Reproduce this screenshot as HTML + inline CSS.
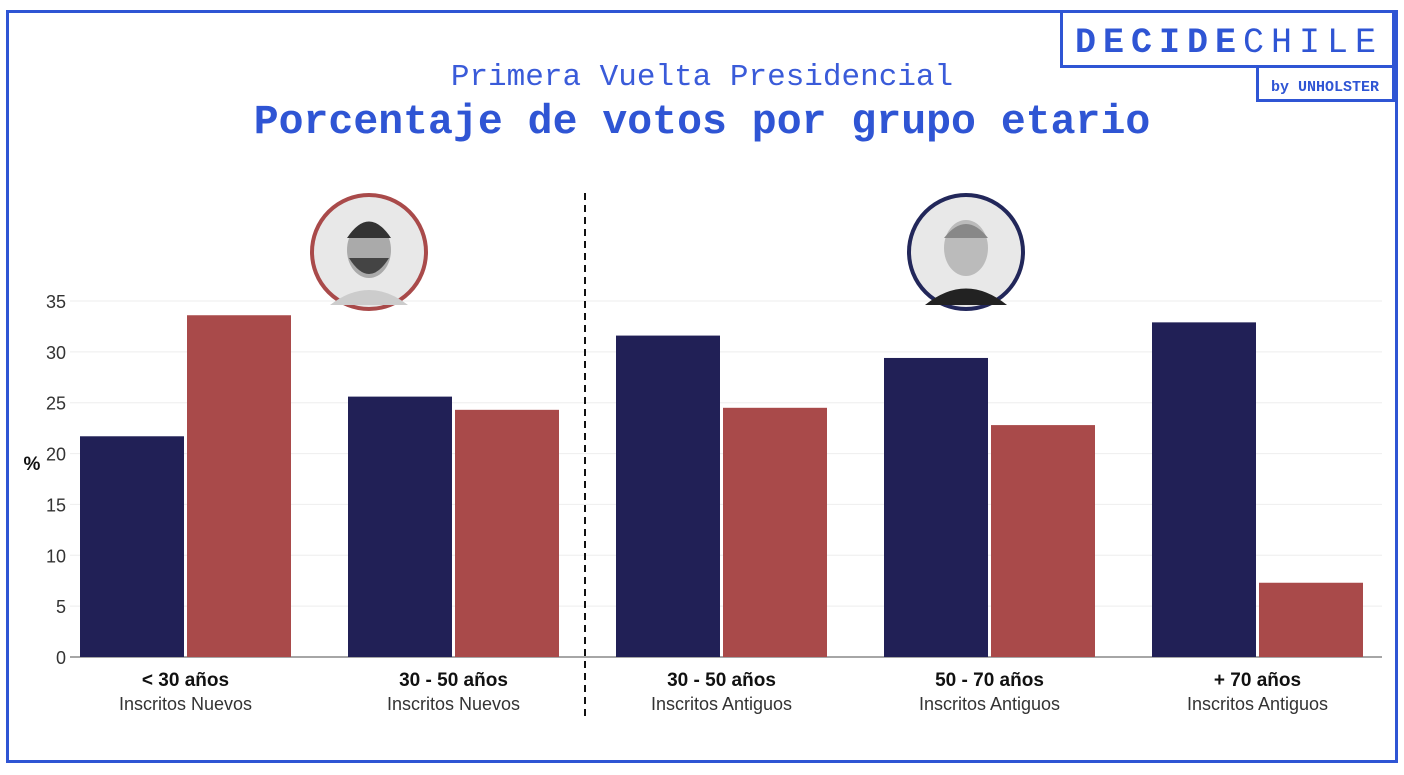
<!DOCTYPE html>
<html><head><meta charset="utf-8"><style>
body{margin:0;width:1404px;height:770px;background:#fff;overflow:hidden;font-family:"Liberation Sans",sans-serif}
</style></head><body>
<svg width="1404" height="770">
<rect x="7.5" y="11.5" width="1389" height="750" fill="none" stroke="#2f55d4" stroke-width="3"/>
<g>
<rect x="1061.5" y="11.5" width="332" height="55" fill="#fff" stroke="#2f55d4" stroke-width="3"/>
<rect x="1257.5" y="66.5" width="136" height="34" fill="#fff" stroke="#2f55d4" stroke-width="3"/>
<text x="1075" y="52" font-family="Liberation Mono,monospace" font-size="35" fill="#2f55d4" letter-spacing="7"><tspan font-weight="bold">DECIDE</tspan>CHILE</text>
<text x="1271" y="91" font-family="Liberation Mono,monospace" font-size="15" font-weight="bold" fill="#2f55d4">by UNHOLSTER</text>
</g>
<text x="702" y="85" text-anchor="middle" font-family="Liberation Mono,monospace" font-size="31" fill="#3a5bd9">Primera Vuelta Presidencial</text>
<text x="702" y="133" text-anchor="middle" font-family="Liberation Mono,monospace" font-weight="bold" font-size="41.5" fill="#2f55d4">Porcentaje de votos por grupo etario</text>
<g id="grid"></g><g id="bars"></g><g id="labels"></g>
<line x1="585" y1="193" x2="585" y2="716" stroke="#111" stroke-width="2" stroke-dasharray="7,5"/>
<text x="32" y="470" text-anchor="middle" font-size="19" font-weight="bold" fill="#111">%</text>
<g>
<circle cx="369" cy="252" r="57" fill="#e8e8e8" stroke="#a94a4a" stroke-width="4"/>
<ellipse cx="369" cy="250" rx="22" ry="28" fill="#aaa"/><path d="M347 238 Q369 205 391 238 Z" fill="#333"/><path d="M349 258 Q369 290 389 258 Z" fill="#444"/><path d="M330 305 Q369 275 408 305 Z" fill="#ccc"/>
</g>
<g>
<circle cx="966" cy="252" r="57" fill="#e8e8e8" stroke="#22275a" stroke-width="4"/>
<ellipse cx="966" cy="248" rx="22" ry="28" fill="#bbb"/><path d="M944 238 Q966 210 988 238 Z" fill="#888"/><path d="M925 305 Q966 272 1007 305 Z" fill="#222"/>
</g>
</svg>
<script>
const categories=["< 30 años","30 - 50 años","30 - 50 años","50 - 70 años","+ 70 años"];
const subLabels=["Inscritos Nuevos","Inscritos Nuevos","Inscritos Antiguos","Inscritos Antiguos","Inscritos Antiguos"];
const kastValues=[21.7,25.6,31.6,29.4,32.9];
const boricValues=[33.6,24.3,24.5,22.8,7.3];
const yTicks=[0,5,10,15,20,25,30,35];
const NS="http://www.w3.org/2000/svg";
const y0=657,yTop=301,vMax=35;
const y=v=>y0-(y0-yTop)*v/vMax;
const xc=i=>185.5+268*i;
function mk(tag,attrs,parent){const e=document.createElementNS(NS,tag);for(const k in attrs)e.setAttribute(k,attrs[k]);document.getElementById(parent).appendChild(e);return e;}
yTicks.forEach(t=>{
 const l=mk('line',{x1:70,x2:1382,y1:y(t),y2:y(t),stroke:t===0?'#888':'#eee','stroke-width':t===0?1.5:1},'grid');
 
 
 const tx=mk('text',{x:66,y:y(t)+7,'text-anchor':'end','font-size':18,fill:'#333'},'grid');tx.textContent=t;
 
 
});
categories.forEach((c,i)=>{
 const a=mk('rect',{x:xc(i)-105.5,y:y(kastValues[i]),width:104,height:y0-y(kastValues[i]),fill:'#212056'},'bars');
 
 
 const b=mk('rect',{x:xc(i)+1.5,y:y(boricValues[i]),width:104,height:y0-y(boricValues[i]),fill:'#a94a4a'},'bars');
 
 
 const t1=mk('text',{x:xc(i),y:686,'text-anchor':'middle','font-size':19,'font-weight':'bold',fill:'#111'},'labels');t1.textContent=c;
 
 
 const t2=mk('text',{x:xc(i),y:710,'text-anchor':'middle','font-size':18,fill:'#333'},'labels');t2.textContent=subLabels[i];
 
 
});
</script>
</body></html>
